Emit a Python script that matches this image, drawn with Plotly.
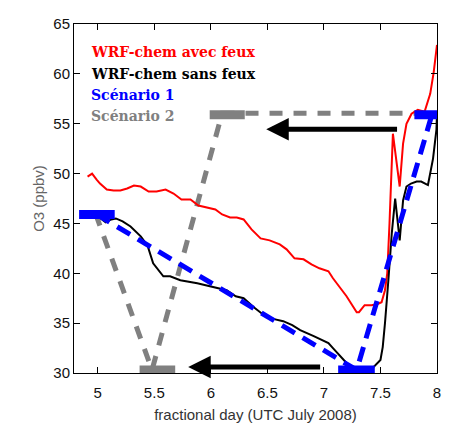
import plotly.graph_objects as go

# ---- data ----
red_x = [4.91, 4.95, 4.99, 5.02, 5.08, 5.14, 5.2, 5.26, 5.32, 5.38, 5.45, 5.52, 5.6, 5.67,
         5.74, 5.82, 5.89, 5.96, 6.04, 6.1, 6.17, 6.23, 6.29, 6.36, 6.44, 6.52, 6.61, 6.67,
         6.74, 6.82, 6.89, 6.96, 7.04, 7.08, 7.13, 7.2, 7.29, 7.31, 7.36, 7.42, 7.47, 7.51,
         7.54, 7.56, 7.58, 7.61, 7.67, 7.70, 7.73, 7.775, 7.83, 7.89, 7.94, 7.97, 8.0]
red_y = [49.7, 50.0, 49.4, 49.0, 48.4, 48.3, 48.3, 48.5, 48.8, 48.7, 48.2, 48.2, 48.4, 48.0,
         47.4, 47.4, 46.8, 46.6, 46.4, 45.9, 45.6, 45.6, 45.4, 44.4, 43.5, 43.3, 42.9, 42.4,
         41.5, 41.4, 40.9, 40.5, 40.2, 39.5, 38.7, 37.7, 36.1, 36.1, 36.8, 36.8, 36.9, 37.1,
         38.3, 40.0, 45.0, 54.0, 48.7, 53.0, 55.0, 56.0, 56.4, 56.2, 58.0, 60.1, 62.9]

black_x = [4.97, 5.02, 5.07, 5.12, 5.16, 5.22, 5.29, 5.38, 5.44, 5.49, 5.54, 5.58, 5.64,
           5.73, 5.88, 6.02, 6.14, 6.22, 6.29, 6.38, 6.47, 6.56, 6.64, 6.72, 6.79, 6.91,
           7.04, 7.08, 7.14, 7.2, 7.26, 7.32, 7.38, 7.44, 7.50, 7.52, 7.54, 7.555, 7.57,
           7.60, 7.63, 7.67, 7.70, 7.73, 7.77, 7.82, 7.86, 7.92, 7.965, 7.995, 8.0]
black_y = [46.0, 45.5, 45.1, 45.4, 45.5, 45.2, 44.7, 43.7, 42.8, 41.0, 40.3, 39.7, 39.7,
           39.3, 39.0, 38.65, 38.3, 37.7, 37.5, 36.6, 35.8, 35.4, 35.2, 34.8, 34.3, 33.7,
           33.0, 32.5, 31.7, 31.0, 30.3, 30.2, 30.3, 30.6, 31.3, 32.6, 35.0, 37.65, 39.3,
           44.0, 47.5, 43.3, 47.3, 48.7, 49.0, 49.2, 49.2, 48.85, 51.5, 54.4, 56.0]

# Scenario 1 (blue): dashed path and bars
sc1_x = [4.99, 7.29, 7.955]
sc1_y = [45.9, 30.3, 55.9]
sc1_bar_x0 = [4.835, 7.126, 7.80]
sc1_bar_x1 = [5.15, 7.45, 8.11]
sc1_bar_y = [45.9, 30.3, 55.9]

# Scenario 2 (grey): dashed path and bars
sc2_x = [4.98, 5.48, 6.10, 7.95]
sc2_y = [46.0, 30.3, 56.05, 56.05]
sc2_bar_x0 = [5.37, 5.99]
sc2_bar_x1 = [5.685, 6.30]
sc2_bar_y = [30.3, 55.9]

# Arrows (tail -> head)
arrow_tail_x = [7.66, 6.98]
arrow_head_x = [6.49, 5.80]
arrow_y = [54.45, 30.6]

legend_labels = ["WRF-chem avec feux", "WRF-chem sans feux", "Scénario 1", "Scénario 2"]
legend_colors = ["#ff0000", "#000000", "#0000ff", "#808080"]

x_ticks = [5, 5.5, 6, 6.5, 7, 7.5, 8]
y_ticks = [30, 35, 40, 45, 50, 55, 60, 65]

BLUE = "#0000ff"
GREY = "#808080"

fig = go.Figure()
fig.add_trace(go.Scatter(x=sc2_x, y=sc2_y, mode="lines", showlegend=False,
                         line=dict(color=GREY, width=5, dash="13px,11px")))
fig.add_trace(go.Scatter(x=red_x, y=red_y, mode="lines", showlegend=False,
                         line=dict(color="#ff0000", width=2)))
fig.add_trace(go.Scatter(x=black_x, y=black_y, mode="lines", showlegend=False,
                         line=dict(color="#000000", width=2)))
fig.add_trace(go.Scatter(x=sc1_x, y=sc1_y, mode="lines", showlegend=False,
                         line=dict(color=BLUE, width=5, dash="15px,9px")))

shapes = []
for x0, x1, y in zip(sc2_bar_x0, sc2_bar_x1, sc2_bar_y):
    shapes.append(dict(type="line", xref="x", yref="y", x0=x0, x1=x1, y0=y, y1=y,
                       line=dict(color=GREY, width=9), layer="above"))
for x0, x1, y in zip(sc1_bar_x0, sc1_bar_x1, sc1_bar_y):
    shapes.append(dict(type="line", xref="x", yref="y", x0=x0, x1=x1, y0=y, y1=y,
                       line=dict(color=BLUE, width=9), layer="above"))

annotations = []
for tx, hx, y in zip(arrow_tail_x, arrow_head_x, arrow_y):
    annotations.append(dict(x=hx, y=y, ax=tx, ay=y, xref="x", yref="y", axref="x", ayref="y",
                            text="", showarrow=True, arrowhead=2, arrowsize=0.9,
                            arrowwidth=5, arrowcolor="#000000", standoff=0, startstandoff=0))

leg_y = [0.92, 0.858, 0.797, 0.735]
for lab, col, yy in zip(legend_labels, legend_colors, leg_y):
    annotations.append(dict(x=0.042, y=yy, xref="paper", yref="paper", xanchor="left",
                            yanchor="middle", text="<b>" + lab + "</b>", showarrow=False,
                            font=dict(family="DejaVu Serif", size=14, color=col)))

axis_common = dict(showline=True, linecolor="#000000", linewidth=1, mirror="ticks",
                   ticks="inside", ticklen=6, tickcolor="#000000", showgrid=False,
                   zeroline=False, automargin=False,
                   tickfont=dict(family="Liberation Sans", size=15, color="#111111"))

# page body has an 8px margin: figure is sized/placed to compensate
fig.update_layout(
    width=454, height=416,
    margin=dict(l=66, r=25, t=16, b=51),
    paper_bgcolor="white", plot_bgcolor="white",
    shapes=shapes, annotations=annotations,
    xaxis=dict(range=[4.79, 8.0], tickvals=x_ticks, ticktext=[str(v) for v in x_ticks],
               ticklabelstandoff=6,
               title=dict(text="fractional day (UTC July 2008)", standoff=9,
                          font=dict(family="Liberation Sans", size=15, color="#333333")),
               **axis_common),
    yaxis=dict(range=[30, 65], tickvals=y_ticks, ticktext=[str(v) for v in y_ticks],
               title=dict(text="O3 (ppbv)", standoff=5,
                          font=dict(family="Liberation Sans", size=15, color="#666666")),
               **axis_common),
)

fig.write_html("out.html")
